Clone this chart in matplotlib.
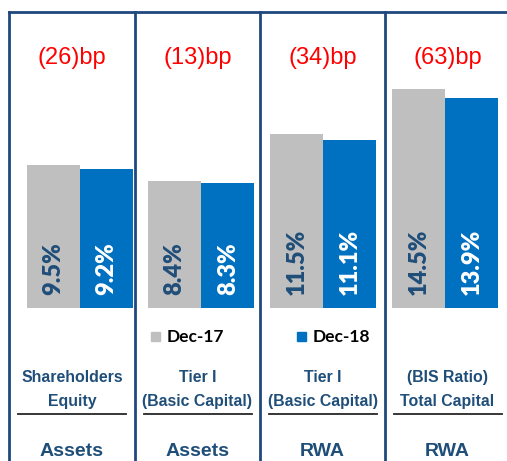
import matplotlib
matplotlib.use("Agg")
import matplotlib.pyplot as plt
from matplotlib.lines import Line2D

# data
dec17 = [9.5, 8.4, 11.5, 14.5]
dec18 = [9.2, 8.3, 11.1, 13.9]
changes = ["(26)bp", "(13)bp", "(34)bp", "(63)bp"]
names = ["Shareholders\nEquity", "Tier I\n(Basic Capital)", "Tier I\n(Basic Capital)", "(BIS Ratio)\nTotal Capital"]
bases = ["Assets", "Assets", "RWA", "RWA"]
series = ["Dec-17", "Dec-18"]

W, H = 507, 461
GRAY = "#BFBFBF"
BLUE = "#0070C0"
NAVY = "#1F4E79"
FRAME = "#1F497D"

def fx(px):
    return px / W

def fy(py):
    return 1 - py / H

fig = plt.figure(figsize=(W / 100, H / 100), dpi=100)
ax = fig.add_axes([fx(9), fy(308), fx(510 - 9), (308 - 12) / H])
ax.set_xlim(0, 4)
ax.set_ylim(0, 19.6)
ax.axis("off")

centers = [0.565, 1.535, 2.51, 3.48]
bw = 0.424
for i, c in enumerate(centers):
    ax.bar(c - bw / 2, dec17[i], bw, color=GRAY, edgecolor="none")
    ax.bar(c + bw / 2, dec18[i], bw, color=BLUE, edgecolor="none")
    ax.text(c - bw / 2, 0.85, f"{dec17[i]:.1f}%", rotation=90, ha="center", va="bottom",
            color=NAVY, fontsize=17, fontweight="heavy", family="Lato")
    ax.text(c + bw / 2, 0.85, f"{dec18[i]:.1f}%", rotation=90, ha="center", va="bottom",
            color="white", fontsize=17, fontweight="heavy", family="Lato")

# panel frame
lw = 2.0
fig.add_artist(Line2D([fx(9), 1], [fy(12), fy(12)], color=FRAME, lw=lw))
for px in [9, 135, 260, 385]:
    fig.add_artist(Line2D([fx(px), fx(px)], [fy(12), 0], color=FRAME, lw=lw))

pcent = [72, 197.5, 322.5, 447.5]
for i, pc in enumerate(pcent):
    fig.text(fx(pc), fy(58), changes[i], color="red", fontsize=17, ha="center", va="center",
             family="Liberation Sans")
    fig.text(fx(pc), fy(389), names[i], color=NAVY, fontsize=11.4, ha="center", va="center",
             family="Liberation Sans", fontweight="bold", linespacing=1.75)
    fig.add_artist(Line2D([fx(pc - 54), fx(pc + 54)], [fy(414), fy(414)], color="#262626", lw=1.3))
    fig.text(fx(pc), fy(456), bases[i], color=NAVY, fontsize=14, ha="center", va="baseline",
             family="Liberation Sans", fontweight="bold")

# legend
fig.patches.append(plt.Rectangle((fx(151), fy(341)), fx(9), 9 / H, color=GRAY, transform=fig.transFigure))
fig.text(fx(167), fy(337), series[0], fontsize=12.5, fontweight="bold", va="center", family="Lato")
fig.patches.append(plt.Rectangle((fx(297), fy(341)), fx(9), 9 / H, color=BLUE, transform=fig.transFigure))
fig.text(fx(313), fy(337), series[1], fontsize=12.5, fontweight="bold", va="center", family="Lato")

fig.savefig("out.png", dpi=100)
